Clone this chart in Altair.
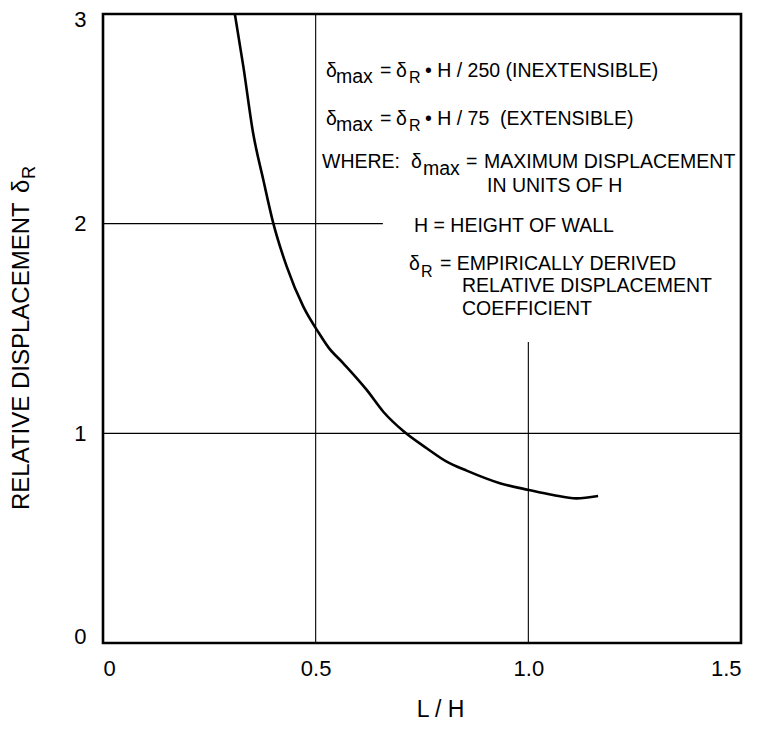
import altair as alt
import pandas as pd

# ---------------- data ----------------
curve_x = [0.310, 0.330, 0.353, 0.377, 0.400, 0.432, 0.471, 0.508, 0.530, 0.565,
           0.620, 0.659, 0.706, 0.761, 0.808, 0.855, 0.933, 1.001, 1.058, 1.113, 1.164]
curve_y = [3.000, 2.749, 2.431, 2.208, 2.005, 1.795, 1.604, 1.477, 1.410, 1.334,
           1.207, 1.103, 1.011, 0.929, 0.865, 0.822, 0.762, 0.730, 0.706, 0.690, 0.701]

# grid rules: (x, y, x2, y2) in data units
grid_x = [0.5, 0.0, 0.0, 1.0]
grid_y = [0.0, 1.0, 2.0, 0.0]
grid_x2 = [0.5, 1.5, 0.658, 1.0]
grid_y2 = [3.0, 1.0, 2.0, 1.436]

x_ticks = [0, 0.5, 1.0, 1.5]
y_ticks = [0, 1, 2, 3]

# ---------------- layout ----------------
W, H = 638, 629
OX, OY = 103, 14          # page position of plot origin (8px margin + padding)
XMAX, YMAX = 1.5, 3.0
FONT = "Liberation Sans"


def px2x(px):
    return (px - OX) / W * XMAX


def py2y(py):
    return (OY + H - py) / H * YMAX


# annotation segments: text, page x (left), page y (baseline)
ann_main = [
    ("δ", 326, 77), ("=", 380, 77), ("δ", 396, 77), ("• H / 250 (INEXTENSIBLE)", 425, 77),
    ("δ", 326, 125), ("=", 380, 125), ("δ", 396, 125), ("• H / 75\u00a0 (EXTENSIBLE)", 425, 125),
    ("WHERE:", 322, 168), ("δ", 411, 168), ("=", 466, 168), ("MAXIMUM DISPLACEMENT", 484, 168),
    ("IN UNITS OF H", 487, 192),
    ("H = HEIGHT OF WALL", 414, 232),
    ("δ", 409, 270), ("= EMPIRICALLY DERIVED", 440, 270),
    ("RELATIVE DISPLACEMENT", 462, 292),
    ("COEFFICIENT", 462, 315),
]
ann_max = [("max", 336, 83), ("max", 336, 131), ("max", 423, 175)]
ann_r = [("R", 409, 83), ("R", 409, 131), ("R", 421, 277)]

ytitle_main = [("RELATIVE DISPLACEMENT", 29, 510), ("δ", 29, 193)]
ytitle_sub = [("R", 35, 179)]


def ann_df(rows):
    return pd.DataFrame({
        "t": [r[0] for r in rows],
        "x": [px2x(r[1]) for r in rows],
        "y": [py2y(r[2]) for r in rows],
    })


curve_df = pd.DataFrame({"x": curve_x, "y": curve_y})
grid_df = pd.DataFrame({"x": grid_x, "y": grid_y, "x2": grid_x2, "y2": grid_y2})

xscale = alt.Scale(domain=[0, XMAX], nice=False, zero=False)
yscale = alt.Scale(domain=[0, YMAX], nice=False, zero=False)

xaxis = alt.Axis(
    values=x_ticks,
    labelExpr="datum.value == 0 ? '0' : format(datum.value, '.1f')",
    title="L / H",
    titleX=337, titleY=73, titleAlign="center", titleBaseline="alphabetic",
    titleFontSize=23, titleFont=FONT, titleFontWeight="normal", titleColor="black",
    labelFontSize=22, labelPadding=15, labelFont=FONT, labelColor="black",
)
yaxis = alt.Axis(
    values=y_ticks, format="d", title=None,
    labelFontSize=22, labelPadding=17, labelFont=FONT, labelColor="black",
    labelBaseline={"condition": {"test": "datum.value == 0", "value": "alphabetic"}, "value": "middle"},
    labelOffset={"condition": {"test": "datum.value == 3", "value": 5}, "value": 0},
)

grid = alt.Chart(grid_df).mark_rule(color="black", strokeWidth=1.1).encode(
    x=alt.X("x:Q", scale=xscale, axis=xaxis),
    y=alt.Y("y:Q", scale=yscale, axis=yaxis),
    x2="x2:Q", y2="y2:Q",
)

curve = alt.Chart(curve_df).mark_line(
    color="black", strokeWidth=2.6, interpolate="monotone", clip=True
).encode(x="x:Q", y="y:Q", order=alt.Order("x:Q"))


def text_layer(rows, size, angle=0):
    kw = dict(align="left", baseline="alphabetic", font=FONT, fontSize=size, color="black")
    if angle:
        kw["angle"] = angle
    return alt.Chart(ann_df(rows)).mark_text(**kw).encode(x="x:Q", y="y:Q", text="t:N")


chart = alt.layer(
    grid,
    curve,
    text_layer(ann_main, 19.5),
    text_layer(ann_max, 19.5),
    text_layer(ann_r, 16),
    text_layer(ytitle_main, 24, 270),
    text_layer(ytitle_sub, 18, 270),
).properties(
    width=W, height=H,
    autosize=alt.AutoSizeParams(type="none"),
    padding={"left": OX - 8, "top": OY - 8, "right": 5, "bottom": 78},
    background="white",
).configure_view(
    stroke="black", strokeWidth=2.6
).configure_axis(
    domain=False, ticks=False, grid=False
)

chart.save("out.html", embed_options={"renderer": "svg", "actions": False})
